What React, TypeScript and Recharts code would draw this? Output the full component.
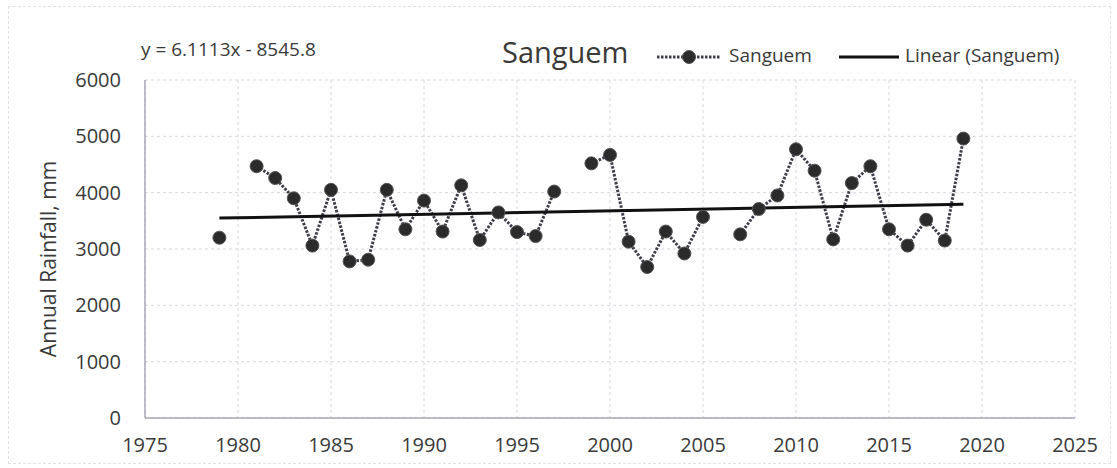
import React from 'react';
import { ComposedChart, Line, XAxis, YAxis, CartesianGrid } from 'recharts';

// annual rainfall at Sanguem (mm)
const years = [
  1979, 1980, 1981, 1982, 1983, 1984, 1985, 1986, 1987, 1988, 1989, 1990, 1991, 1992,
  1993, 1994, 1995, 1996, 1997, 1998, 1999, 2000, 2001, 2002, 2003, 2004, 2005, 2006,
  2007, 2008, 2009, 2010, 2011, 2012, 2013, 2014, 2015, 2016, 2017, 2018, 2019,
];
const rainfall: (number | null)[] = [
  3200, null, 4470, 4260, 3900, 3060, 4050, 2780, 2810, 4050, 3350, 3860, 3310, 4130,
  3160, 3650, 3300, 3230, 4020, null, 4520, 4670, 3130, 2680, 3310, 2920, 3570, null,
  3260, 3710, 3950, 4770, 4390, 3170, 4170, 4470, 3350, 3060, 3520, 3150, 4960,
];
// linear trend end points (y = 6.1113x - 8545.8)
const trendYears = [1979, 2019];
const trendValues = [3548.5, 3792.9];

const xTicks = [1975, 1980, 1985, 1990, 1995, 2000, 2005, 2010, 2015, 2020, 2025];
const yTicks = [0, 1000, 2000, 3000, 4000, 5000, 6000];

const data = years.map((year, i) => {
  const t = trendYears.indexOf(year);
  return { year, rainfall: rainfall[i], trend: t >= 0 ? trendValues[t] : null };
});

const font = '"Open Sans", sans-serif';
const textColor = '#3a3a3a';

// title, trend equation and legend drawn over the chart
const Header = () => (
  <div style={{ position: 'absolute', left: 0, top: 36, width: 1117, height: 40, fontFamily: font, color: textColor }}>
    <span style={{ position: 'absolute', left: 141, top: 0, fontSize: 19, whiteSpace: 'nowrap' }}>
      y = 6.1113x - 8545.8
    </span>
    <span style={{ position: 'absolute', left: 502, top: -4, fontSize: 29, whiteSpace: 'nowrap' }}>Sanguem</span>
    <svg style={{ position: 'absolute', left: 655, top: 13 }} width={68} height={16}>
      <line x1={2} y1={8} x2={66} y2={8} stroke="#3e3e48" strokeWidth={3} strokeDasharray="2.5 1.5" />
      <circle cx={34} cy={8} r={6.5} fill="#2b2b2b" stroke="#555" />
    </svg>
    <span style={{ position: 'absolute', left: 729, top: 6, fontSize: 19, whiteSpace: 'nowrap' }}>Sanguem</span>
    <svg style={{ position: 'absolute', left: 839, top: 13 }} width={62} height={16}>
      <line x1={0} y1={8} x2={60} y2={8} stroke="#111" strokeWidth={3} />
    </svg>
    <span style={{ position: 'absolute', left: 905, top: 6, fontSize: 19, whiteSpace: 'nowrap' }}>
      Linear (Sanguem)
    </span>
  </div>
);

const App: React.FC = () => {
  return (
    <div
      style={{
        position: 'absolute',
        left: 0,
        top: 0,
        width: 1117,
        height: 468,
        background: '#fff',
      }}
    >
      <div
        style={{
          position: 'absolute',
          left: 8,
          top: 6,
          width: 1101,
          height: 456,
          border: '1px dashed #e2e2e2',
          pointerEvents: 'none',
        }}
      />
      <ComposedChart width={1117} height={468} data={data} margin={{ top: 80, right: 42, bottom: 20, left: 40 }}>
        <CartesianGrid stroke="#d8d8e0" strokeDasharray="3 3" />
        <XAxis
          dataKey="year"
          type="number"
          domain={[1975, 2025]}
          ticks={xTicks}
          height={30}
          axisLine={{ stroke: '#a8a8b8', strokeWidth: 1.5 }}
          tickLine={false}
          tickSize={0}
          tickMargin={20}
          tick={{ fontSize: 20, fill: textColor, fontFamily: font }}
        />
        <YAxis
          type="number"
          domain={[0, 6000]}
          ticks={yTicks}
          width={105}
          axisLine={{ stroke: '#a8a8b8', strokeWidth: 1.5 }}
          tickLine={false}
          tickSize={0}
          tickMargin={24}
          tick={{ fontSize: 20, fill: textColor, fontFamily: font }}
          label={{
            position: 'insideLeft',
            content: () => (
              <text
                x={56}
                y={259}
                transform="rotate(-90 56 259)"
                textAnchor="middle"
                fontSize={21}
                fill={textColor}
                fontFamily={font}
              >
                Annual Rainfall, mm
              </text>
            ),
          }}
        />
        <Line
          dataKey="rainfall"
          name="Sanguem"
          stroke="#3e3e48"
          strokeWidth={3}
          strokeDasharray="2.5 1.5"
          dot={{ r: 6.5, fill: '#2b2b2b', stroke: '#555', strokeWidth: 1, strokeDasharray: '0' }}
          activeDot={false}
          connectNulls={false}
          isAnimationActive={false}
        />
        <Line
          dataKey="trend"
          name="Linear (Sanguem)"
          stroke="#111"
          strokeWidth={3}
          dot={false}
          activeDot={false}
          connectNulls
          isAnimationActive={false}
        />
      </ComposedChart>
      <Header />
    </div>
  );
};

export default App;
